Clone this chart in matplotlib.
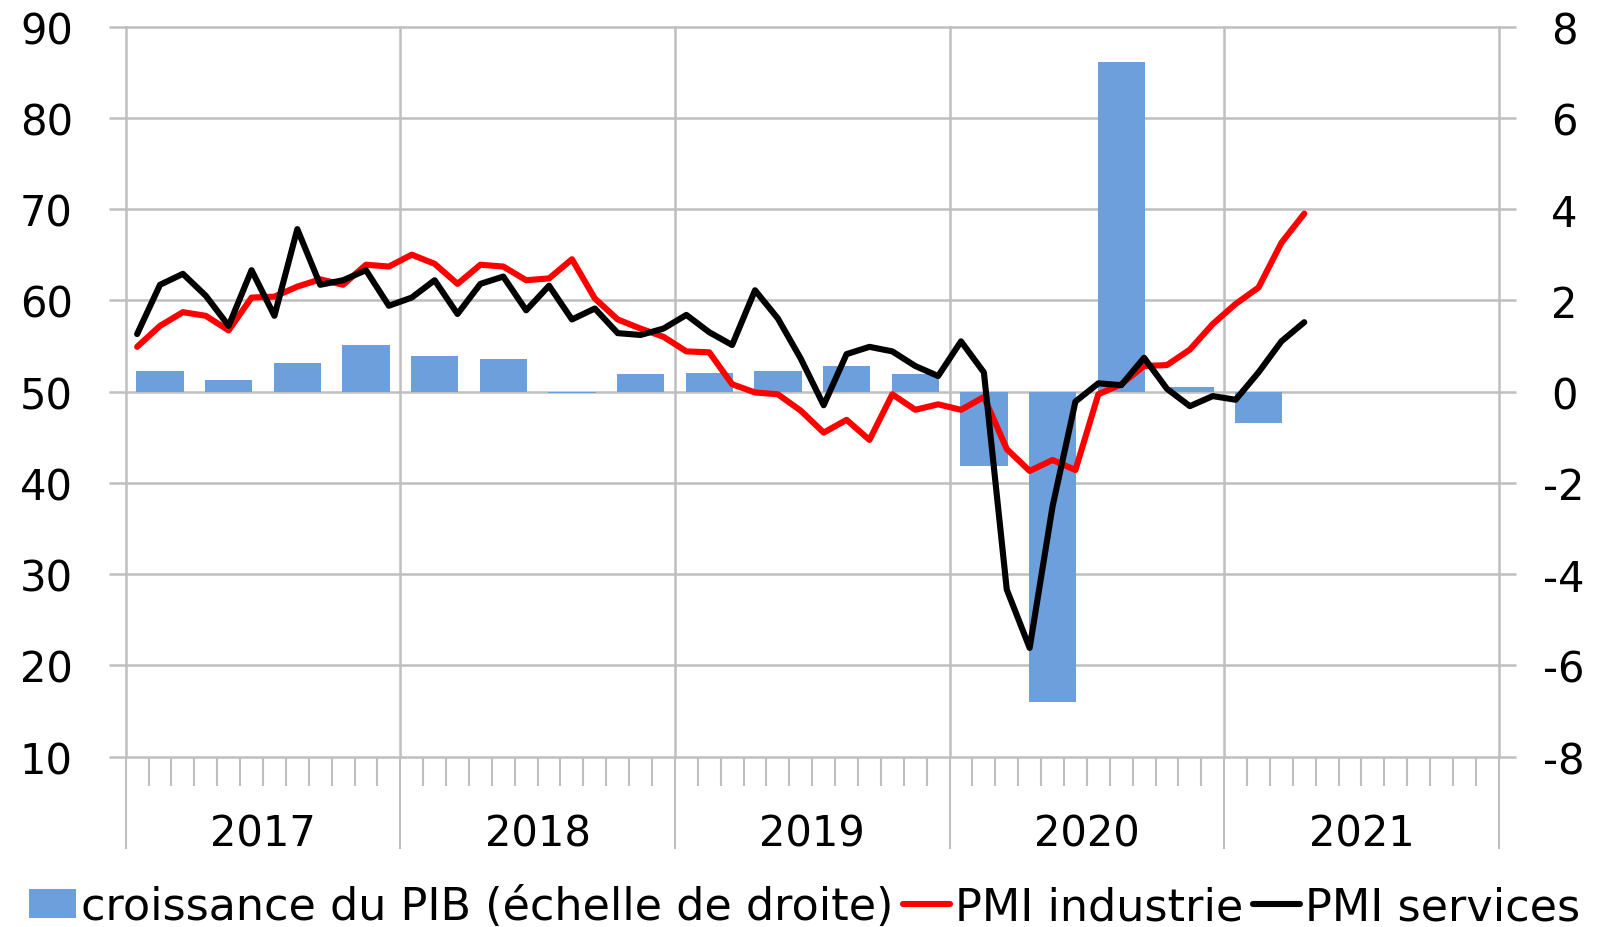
import numpy as np
import matplotlib.pyplot as plt
from matplotlib import transforms

# Données : PMI mensuels (janv. 2017 - avr. 2021), PIB trimestriel (T1 2017 - T1 2021)
pmi_industrie = [54.9, 57.2, 58.7, 58.3, 56.7, 60.3, 60.4, 61.5, 62.3, 61.7, 63.9, 63.7,
                 65.0, 64.0, 61.8, 63.9, 63.7, 62.2, 62.4, 64.5, 60.2, 57.9, 56.9, 56.0,
                 54.4, 54.3, 50.8, 49.9, 49.7, 47.9, 45.5, 46.9, 44.7, 49.7, 48.0, 48.6,
                 48.0, 49.4, 43.7, 41.3, 42.5, 41.4, 49.7, 50.8, 52.8, 52.9, 54.6, 57.4,
                 59.6, 61.4, 66.3, 69.5]
pmi_services = [56.3, 61.7, 62.9, 60.5, 57.2, 63.3, 58.3, 67.8, 61.7, 62.2, 63.3, 59.4,
                60.3, 62.2, 58.5, 61.8, 62.6, 58.9, 61.6, 57.9, 59.1, 56.4, 56.2, 56.9,
                58.4, 56.5, 55.1, 61.1, 58.0, 53.6, 48.5, 54.1, 54.9, 54.4, 52.8, 51.7,
                55.5, 52.1, 28.3, 21.9, 37.4, 48.9, 50.9, 50.7, 53.7, 50.3, 48.4, 49.5,
                49.1, 52.1, 55.5, 57.6]
croissance_pib = [0.46, 0.26, 0.62, 1.03, 0.78, 0.72, -0.03, 0.38, 0.41, 0.44, 0.57, 0.38,
                  -1.64, -6.81, 7.23, 0.10, -0.68]
annees = ['2017', '2018', '2019', '2020', '2021']

gris = '#BFBFBF'
bleu = '#6C9FDB'

plt.rcParams['font.family'] = ['DejaVu Sans']
plt.rcParams['axes.unicode_minus'] = False

fig = plt.figure(figsize=(16.03, 9.28), dpi=100)
ax_b = fig.add_axes([0.0784, 0.1837, 0.935 - 0.0784, 0.9703 - 0.1837])
ax_l = ax_b.twinx()

# Axe de droite (barres) : en dessous, porte la grille
ax_b.yaxis.tick_right()
ax_l.yaxis.tick_left()

mois = np.arange(len(pmi_industrie)) + 0.5
trim = np.arange(len(croissance_pib)) * 3 + 1.5

ax_b.bar(trim, croissance_pib, width=2.07, color=bleu, zorder=2,
         label='croissance du PIB (échelle de droite)')
ax_l.plot(mois, pmi_industrie, color='#FF0000', lw=4.4, solid_capstyle='round',
          solid_joinstyle='round', label='PMI industrie')
ax_l.plot(mois, pmi_services, color='black', lw=4.4, solid_capstyle='round',
          solid_joinstyle='round', label='PMI services')

ax_b.set_xlim(0, 60)
ax_b.set_ylim(-8, 8)
ax_l.set_ylim(10, 90)
ax_b.set_yticks(np.arange(-8, 9, 2))
ax_l.set_yticks(np.arange(10, 91, 10))
ax_b.set_xticks(np.arange(0, 61, 12))
ax_b.set_xticks(np.arange(0, 61, 1), minor=True)
ax_b.set_xticklabels([])

for a in (ax_b, ax_l):
    for s in a.spines.values():
        s.set_visible(False)

ax_b.set_axisbelow(True)
ax_b.grid(True, which='major', color=gris, lw=1.8)
for gl in ax_b.get_xgridlines() + ax_b.get_ygridlines():
    gl.set_clip_on(False)

ax_b.tick_params(axis='x', which='major', length=66, width=1.5, color=gris, direction='out')
ax_b.tick_params(axis='x', which='minor', length=21, width=1.5, color=gris, direction='out')
ax_b.tick_params(axis='y', length=12, width=1.8, color=gris, direction='out',
                 labelsize=30, pad=35)
for lab in ax_b.get_yticklabels():
    lab.set_ha('center')
ax_l.tick_params(axis='y', length=12, width=1.8, color=gris, direction='out',
                 labelsize=30, pad=26)

# Étiquettes des années
trans = transforms.blended_transform_factory(ax_b.transData, ax_b.transAxes)
for k, an in enumerate(annees):
    ax_b.text(k * 12 + 6, -0.106, an, transform=trans, ha='center', va='center', fontsize=30)

h1, l1 = ax_b.get_legend_handles_labels()
h2, l2 = ax_l.get_legend_handles_labels()
fig.legend(h1 + h2, l1 + l2, loc='center', bbox_to_anchor=(0.502, 0.022), ncol=3,
           frameon=False, fontsize=32, handlelength=1.05, handleheight=0.65,
           handletextpad=0.12, columnspacing=0.22, borderaxespad=0)

fig.savefig('out.png', dpi=100)
